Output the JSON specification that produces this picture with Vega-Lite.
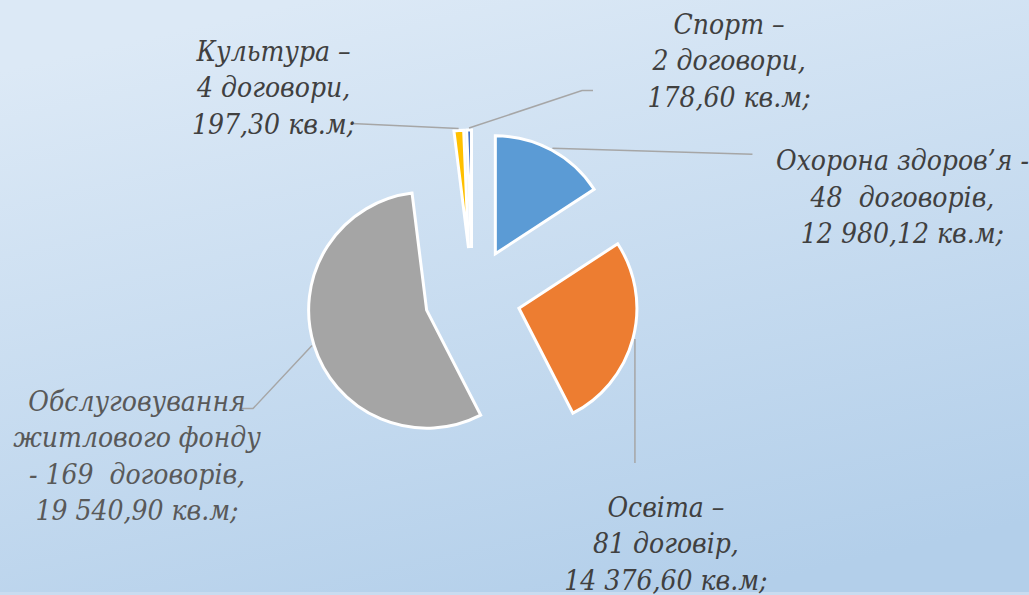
{
  "$schema": "https://vega.github.io/schema/vega-lite/v6.json",
  "width": 1029,
  "height": 595,
  "autosize": {"type": "fit", "contains": "padding"},
  "padding": 0,
  "background": "#c9dcf0",
  "config": {"view": {"stroke": null}},
  "layer": [
    {
      "data": {"values": [{}]},
      "mark": {
        "type": "rect",
        "x": 0, "x2": "width", "y": 0, "y2": "height",
        "fill": {
          "gradient": "linear",
          "x1": 0.3, "y1": 0, "x2": 0.7, "y2": 1,
          "stops": [
            {"offset": 0, "color": "#dce9f6"},
            {"offset": 1, "color": "#b3cfea"}
          ]
        }
      },
      "encoding": {}
    },
    {
      "data": {
        "values": [
          {"sector": "Охорона здоров’я", "contracts": 48, "area": 12980.12, "label": "Охорона здоров’я -\n48\u00a0 договорів,\n12 980,12 кв.м;"},
          {"sector": "Освіта", "contracts": 81, "area": 14376.60, "label": "Освіта –\n81 договір,\n14 376,60 кв.м;"},
          {"sector": "Обслуговування житлового фонду", "contracts": 169, "area": 19540.90, "label": "Обслуговування\nжитлового фонду\n- 169\u00a0 договорів,\n19 540,90 кв.м;"},
          {"sector": "Культура", "contracts": 4, "area": 197.30, "label": "Культура –\n4 договори,\n197,30 кв.м;"},
          {"sector": "Спорт", "contracts": 2, "area": 178.60, "label": "Спорт –\n2 договори,\n178,60 кв.м;"}
        ]
      },
      "transform": [
        {"window": [{"op": "row_number", "as": "idx"}]},
        {"stack": "contracts", "groupby": [], "sort": [{"field": "idx", "order": "ascending"}], "as": ["s0", "s1"]}
      ],
      "layer": [
        {
          "mark": {
            "type": "arc",
            "radius": 118,
            "stroke": "white",
            "strokeWidth": 3,
            "x": {"expr": "width/2 - 42 + 48*sin(scale('theta', (datum.s0 + datum.s1)/2))"},
            "y": {"expr": "height/2 - 48*cos(scale('theta', (datum.s0 + datum.s1)/2))"}
          },
          "encoding": {
            "theta": {"field": "s1", "type": "quantitative", "stack": null},
            "theta2": {"field": "s0"},
            "color": {
              "field": "sector",
              "type": "nominal",
              "scale": {
                "domain": ["Охорона здоров’я", "Освіта", "Обслуговування житлового фонду", "Культура", "Спорт"],
                "range": ["#5B9BD5", "#ED7D31", "#A5A5A5", "#FFC000", "#4472C4"]
              },
              "legend": null
            }
          }
        },
        {
          "mark": {
            "type": "point",
            "filled": false,
            "size": 4,
            "stroke": "#a6a6a6",
            "strokeWidth": 1.5,
            "opacity": 1,
            "x": {"expr": "width/2 - 42 + 168*sin(scale('theta', (datum.s0 + datum.s1)/2))"},
            "y": {"expr": "height/2 - 168*cos(scale('theta', (datum.s0 + datum.s1)/2))"}
          },
          "encoding": {
            "shape": {
              "field": "sector",
              "type": "nominal",
              "scale": {
                "domain": ["Охорона здоров’я", "Освіта", "Обслуговування житлового фонду", "Культура", "Спорт"],
                "range": ["M0,0L200,6", "M0,0L0,124", "M0,0L-59,63L-70,63", "M0,0L-107,-5", "M0,0L113,-37.5L124,-37.5"]
              },
              "legend": null
            }
          }
        },
        {
          "mark": {
            "type": "text",
            "font": "'DejaVu Serif Condensed', 'DejaVu Serif', serif",
            "fontStyle": "italic",
            "fontSize": 28,
            "lineHeight": 36.5,
            "lineBreak": "\n",
            "align": "center",
            "baseline": "alphabetic",
            "fill": {"expr": "datum.idx == 3 ? '#595959' : '#404040'"},
            "x": {"expr": "width/2 - 42 + 168*sin(scale('theta', (datum.s0 + datum.s1)/2))"},
            "y": {"expr": "height/2 - 168*cos(scale('theta', (datum.s0 + datum.s1)/2))"},
            "dx": {"expr": "[350, 31, -175, -185, 260][datum.idx - 1]"},
            "dy": {"expr": "[22, 178, 65, -68, -94.5][datum.idx - 1]"}
          },
          "encoding": {
            "text": {"field": "label", "type": "nominal"}
          }
        }
      ]
    }
  ]
}
